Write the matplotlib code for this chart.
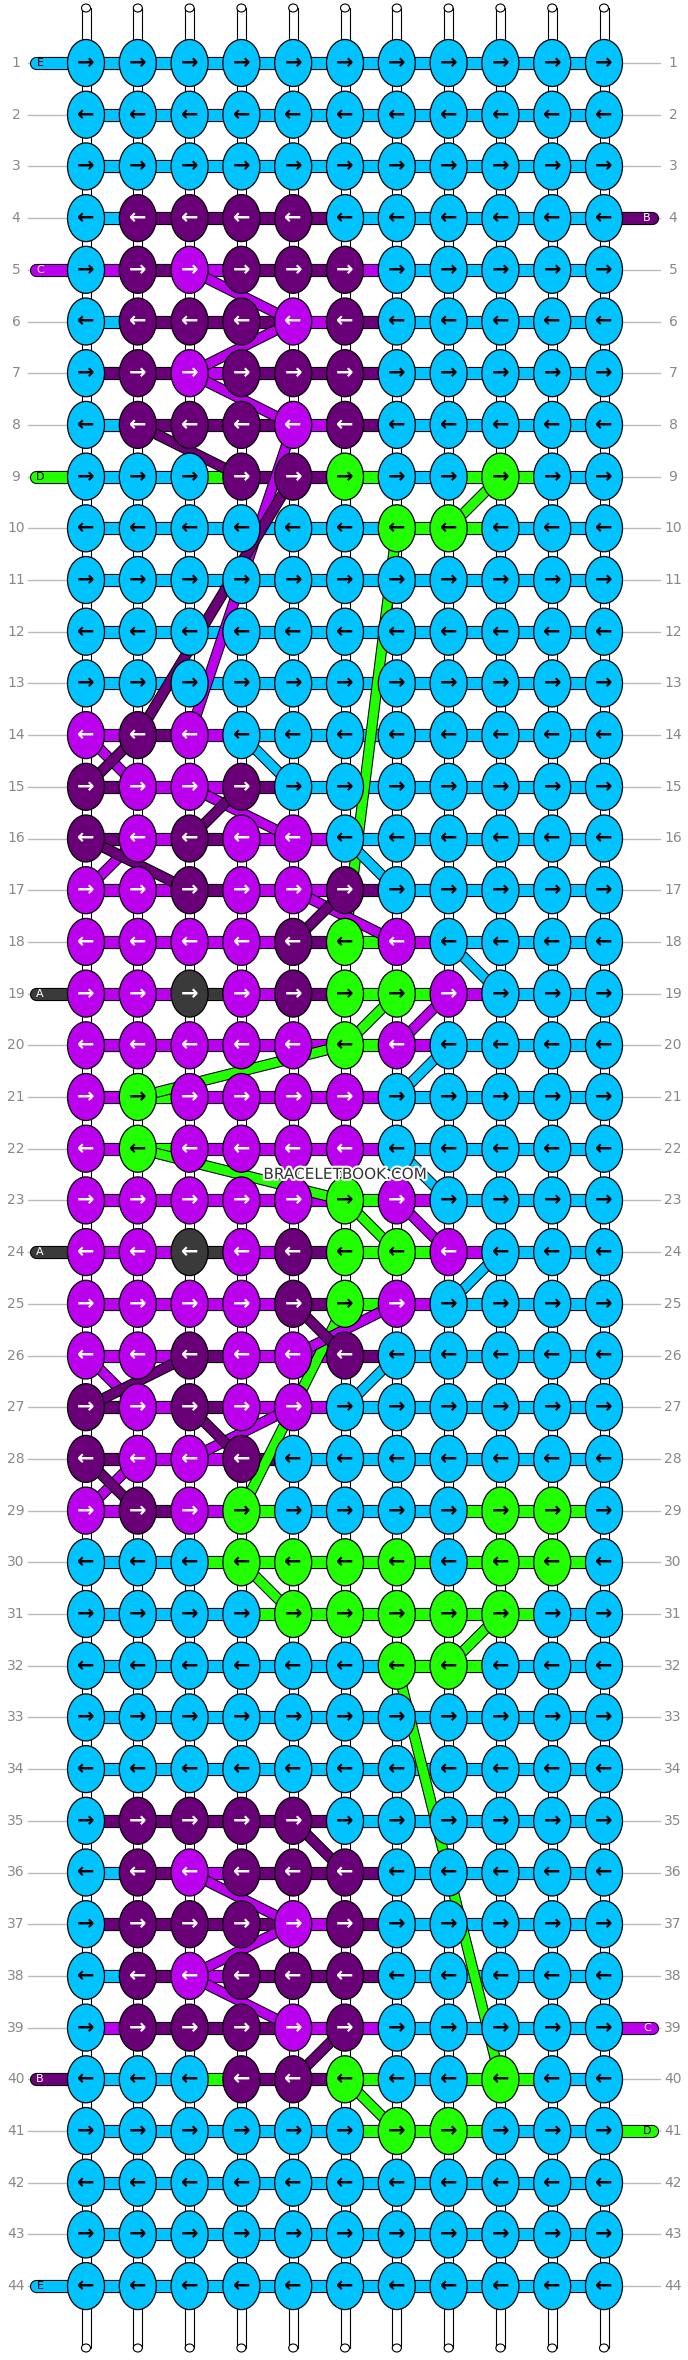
import matplotlib
matplotlib.use("Agg")
import matplotlib.pyplot as plt
from matplotlib.patches import Ellipse, Rectangle
import matplotlib.patheffects as pe

COL = {"C": "#00c3ff", "D": "#6a0077", "P": "#bb00ee", "G": "#22ff00", "K": "#3a3a3a"}

rows = [
    "CCCCCCCCCCC", "CCCCCCCCCCC", "CCCCCCCCCCC", "CDDDDCCCCCC", "CDPDDDCCCCC",
    "CDDDPDCCCCC", "CDPDDDCCCCC", "CDDDPDCCCCC", "CCCDDGCCGCC", "CCCCCCGGCCC",
    "CCCCCCCCCCC", "CCCCCCCCCCC", "CCCCCCCCCCC", "PDPCCCCCCCC", "DPPDCCCCCCC",
    "DPDPPCCCCCC", "PPDPPDCCCCC", "PPPPDGPCCCC", "PPKPDGGPCCC", "PPPPPGPCCCC",
    "PGPPPPCCCCC", "PGPPPPCCCCC", "PPPPPGPCCCC", "PPKPDGGPCCC", "PPPPDGPCCCC",
    "PPDPPDCCCCC", "DPDPPCCCCCC", "DPPDCCCCCCC", "PDPGCCCCGGC", "CCCGGGGCGGC",
    "CCCCGGGGGCC", "CCCCCCGGCCC", "CCCCCCCCCCC", "CCCCCCCCCCC", "CDDDDCCCCCC",
    "CDPDDDCCCCC", "CDDDPDCCCCC", "CDPDDDCCCCC", "CDDDPDCCCCC", "CCCDDGCCGCC",
    "CCCCCCGGCCC", "CCCCCCCCCCC", "CCCCCCCCCCC", "CCCCCCCCCCC",
]
directions = ["R" if i % 2 == 0 else "L" for i in range(44)]
row_labels = [str(i + 1) for i in range(44)]

# working thread per row (horizontal line colour where not overridden by knots)
row_thread = {5: "P", 9: "G", 29: "G", 30: "G", 31: "G", 39: "P", 40: "G", 41: "G"}

edge_threads = [(1, "L", "E", "C"), (4, "R", "B", "D"), (5, "L", "C", "P"), (9, "L", "D", "G"),
                (19, "L", "A", "K"), (24, "L", "A", "K"), (39, "R", "C", "P"), (40, "L", "B", "D"),
                (41, "R", "D", "G"), (44, "L", "E", "C")]

diagonals = [
    (9, 9, 10, 8, "G"), (10, 7, 18, 6, "G"), (19, 7, 20, 6, "G"), (20, 6, 21, 2, "G"),
    (22, 2, 23, 6, "G"), (23, 6, 24, 7, "G"), (25, 6, 29, 4, "G"), (30, 4, 31, 5, "G"),
    (31, 9, 32, 8, "G"), (32, 7, 40, 9, "G"), (40, 6, 41, 7, "G"),
    (5, 3, 6, 5, "P"), (6, 5, 7, 3, "P"), (7, 3, 8, 5, "P"), (8, 5, 14, 3, "P"),
    (14, 1, 15, 2, "P"), (15, 3, 16, 5, "P"), (16, 2, 17, 1, "P"), (17, 5, 18, 7, "P"),
    (19, 8, 20, 7, "P"), (23, 7, 24, 8, "P"), (25, 7, 26, 5, "P"), (27, 5, 28, 3, "P"),
    (26, 1, 27, 2, "P"), (28, 2, 29, 1, "P"), (36, 3, 37, 5, "P"), (37, 5, 38, 3, "P"),
    (38, 3, 39, 5, "P"),
    (8, 2, 9, 4, "D"), (9, 5, 14, 2, "D"), (14, 2, 15, 1, "D"), (15, 4, 16, 3, "D"),
    (16, 1, 17, 3, "D"), (17, 6, 18, 5, "D"), (25, 5, 26, 6, "D"), (26, 3, 27, 1, "D"),
    (27, 3, 28, 4, "D"), (28, 1, 29, 2, "D"), (35, 5, 36, 6, "D"), (39, 6, 40, 5, "D"),
    (14, 4, 15, 5, "C"), (16, 6, 17, 7, "C"), (18, 8, 19, 9, "C"), (20, 8, 21, 7, "C"),
    (22, 7, 23, 8, "C"), (24, 9, 25, 8, "C"), (26, 7, 27, 6, "C"),
]

W, H = 688, 2360
fig = plt.figure(figsize=(W / 100, H / 100), dpi=100)
ax = fig.add_axes([0, 0, 1, 1])
ax.set_xlim(0, W)
ax.set_ylim(H, 0)
ax.axis("off")

x0, dx = 86, 51.8
y0, dy = 63, 51.7
ncol = 11
xs = [x0 + i * dx for i in range(ncol)]
ys = [y0 + j * dy for j in range(44)]
kw, kh = 37, 47

for x in xs:
    ax.add_patch(Rectangle((x - 4.5, 8), 9, H - 20, facecolor="white",
                           edgecolor="black", lw=0.8, zorder=1))
    for yy in (8, H - 12):
        ax.add_patch(Ellipse((x, yy), 9, 8, facecolor="white", edgecolor="black", lw=0.8, zorder=1))

stroke = [pe.Stroke(linewidth=9.5, foreground="black"), pe.Normal()]

for j, y in enumerate(ys):
    ax.plot([28, xs[0]], [y, y], color="#bbbbbb", lw=1, zorder=0)
    ax.plot([xs[-1], 660], [y, y], color="#bbbbbb", lw=1, zorder=0)
    ax.text(16, y, row_labels[j], ha="center", va="center", fontsize=10, color="#888888")
    ax.text(673, y, row_labels[j], ha="center", va="center", fontsize=10, color="#888888")

for j, r in enumerate(rows):
    y = ys[j]
    for i in range(ncol - 1):
        a, b = r[i], r[i + 1]
        if a == b:
            c = a
        elif (j + 1) in row_thread and "C" in (a, b):
            c = row_thread[j + 1]
        else:
            c = a if directions[j] == "L" or a != "C" else b
        ax.plot([xs[i], xs[i + 1]], [y, y], color=COL[c], lw=8, solid_capstyle="butt",
                zorder=2, path_effects=stroke)

for (rr, side, letter, c) in edge_threads:
    y = ys[rr - 1]
    if side == "L":
        xa, xb, xt = 36, xs[0], 40
    else:
        xa, xb, xt = xs[-1], 652, 647
    ax.plot([xa, xb], [y, y], color=COL[c], lw=8, solid_capstyle="round", zorder=2,
            path_effects=[pe.Stroke(linewidth=9.5, foreground="black"), pe.Normal()])
    tc = "black" if c in ("C", "G") else "white"
    ax.text(xt, y, letter, ha="center", va="center", fontsize=8, color=tc, zorder=3)

for (r1, c1, r2, c2, c) in diagonals:
    ax.plot([xs[c1 - 1], xs[c2 - 1]], [ys[r1 - 1], ys[r2 - 1]], color=COL[c], lw=6.5,
            solid_capstyle="butt", zorder=3,
            path_effects=[pe.Stroke(linewidth=8, foreground="black"), pe.Normal()])

for j, r in enumerate(rows):
    y = ys[j]
    for i, c in enumerate(r):
        ax.add_patch(Ellipse((xs[i], y), kw, kh, facecolor=COL[c], edgecolor="black", lw=0.9, zorder=4))
        ac = "black" if c in ("C", "G") else "white"
        ax.text(xs[i], y, "→" if directions[j] == "R" else "←", ha="center", va="center",
                fontsize=15, fontweight="bold", color=ac, zorder=5)

ax.text(345, ys[22] - 26, "BRACELETBOOK.COM", ha="center", va="center", fontsize=11,
        color="#333333", zorder=6,
        path_effects=[pe.Stroke(linewidth=3, foreground="white"), pe.Normal()])

fig.savefig("out.png", dpi=100)
